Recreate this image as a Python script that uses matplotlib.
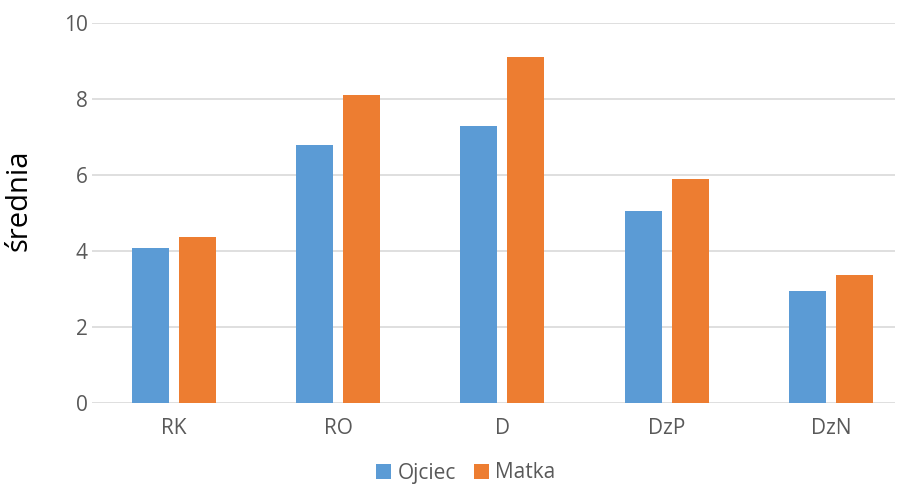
import numpy as np
import matplotlib
matplotlib.use('Agg')
import matplotlib.pyplot as plt

categories = ['RK', 'RO', 'D', 'DzP', 'DzN']
ojciec = [4.08, 6.80, 7.30, 5.07, 2.94]
matka = [4.37, 8.10, 9.10, 5.89, 3.37]

plt.rcParams['font.family'] = ['Open Sans', 'DejaVu Sans']

fig = plt.figure(figsize=(9.02, 4.84), dpi=100)
ax = fig.add_axes([0.102, 0.167, 0.890, 0.785])

x = np.arange(len(categories))
w = 0.225
off = 0.143
ax.bar(x - off, ojciec, w, color='#5B9BD5', label='Ojciec', zorder=3)
ax.bar(x + off, matka, w, color='#ED7D31', label='Matka', zorder=3)

ax.set_xlim(-0.5, 4.39)
ax.set_ylim(0, 10)
ax.set_yticks(np.arange(0, 11, 2))
ax.set_xticks(x)
ax.set_xticklabels(categories)
ax.yaxis.grid(True, color='#D9D9D9', linewidth=1.2, zorder=0)
for s in ax.spines.values():
    s.set_visible(False)
ax.tick_params(axis='both', length=0, labelsize=15, colors='#595959')
ax.tick_params(axis='y', pad=3)
ax.tick_params(axis='x', pad=11)
ax.set_ylabel('średnia', fontsize=21, color='black')
ax.yaxis.set_label_coords(-0.073, 0.534)

# legend sits at the very bottom, kept just inside the figure
fig.legend(loc='center', bbox_to_anchor=(466 / 902, 1 - 473 / 484), ncol=2,
           frameon=False, fontsize=15, handlelength=0.7, handleheight=0.7,
           handletextpad=0.3, columnspacing=0.9, labelcolor='#595959',
           borderaxespad=0, borderpad=0.2)

fig.savefig('out.png', dpi=100)
